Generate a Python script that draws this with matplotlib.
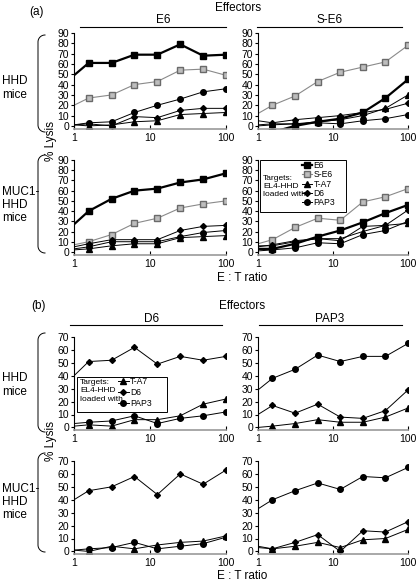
import numpy as np
import matplotlib
matplotlib.use('Agg')
import matplotlib.pyplot as plt
from matplotlib.lines import Line2D
from matplotlib.patches import Rectangle
from matplotlib import rcParams

rcParams.update({
    "font.family": ['Liberation Sans', 'DejaVu Sans'],
    "font.size": 7.5,
})

# E:T ratios (first point sits on the y axis, no marker)
ratio = [1, 1.56, 3.125, 6.25, 12.5, 25, 50, 100]

# (a) HHD mice, E6 effectors
a_hhd_e6 = {
    'E6':   [49, 61, 61, 69, 69, 79, 68, 69],
    'S-E6': [20, 27, 30, 40, 43, 54, 55, 49],
    'T-A7': [1, 0, 1, 4, 5, 11, 12, 13],
    'D6':   [1, 2, 0, 9, 8, 15, 17, 17],
    'PAP3': [1, 3, 4, 13, 20, 26, 33, 36],
}
# (a) HHD mice, S-E6 effectors
a_hhd_se6 = {
    'E6':   [np.nan, -6, 0, 4, 7, 13, 27, 45],
    'S-E6': [12, 20, 29, 43, 52, 57, 62, 78],
    'T-A7': [1, 2, 2, 4, 6, 10, 17, 30],
    'D6':   [5, 3, 6, 8, 10, 13, 16, 22],
    'PAP3': [0, 1, 2, 3, 2, 5, 7, 11],
}
# (a) MUC1-HHD mice, E6 effectors
a_muc_e6 = {
    'E6':   [27, 40, 52, 60, 62, 68, 71, 77],
    'S-E6': [7, 10, 17, 28, 33, 43, 47, 50],
    'T-A7': [2, 3, 6, 8, 8, 14, 15, 16],
    'D6':   [5, 8, 12, 12, 12, 21, 25, 26],
    'PAP3': [3, 5, 10, 10, 10, 15, 19, 21],
}
# (a) MUC1-HHD mice, S-E6 effectors
a_muc_se6 = {
    'E6':   [3, 3, 8, 15, 21, 29, 38, 46],
    'S-E6': [8, 12, 24, 33, 31, 49, 54, 62],
    'T-A7': [6, 6, 10, 13, 13, 20, 26, 28],
    'D6':   [5, 7, 11, 13, 11, 25, 26, 41],
    'PAP3': [1, 2, 4, 9, 8, 17, 21, 30],
}
# (b) HHD mice, D6 effectors
b_hhd_d6 = {
    'T-A7': [1, 2, 1, 6, 6, 9, 18, 22],
    'D6':   [40, 51, 52, 62, 49, 55, 52, 55],
    'PAP3': [3, 4, 5, 9, 3, 7, 9, 12],
}
# (b) HHD mice, PAP3 effectors
b_hhd_pap3 = {
    'T-A7': [0, 1, 3, 6, 4, 4, 8, 15],
    'D6':   [10, 17, 11, 18, 8, 7, 13, 29],
    'PAP3': [29, 38, 45, 56, 51, 55, 55, 65],
}
# (b) MUC1-HHD mice, D6 effectors
b_muc_d6 = {
    'T-A7': [1, 0, 4, 2, 5, 7, 8, 12],
    'D6':   [40, 47, 50, 58, 44, 60, 52, 63],
    'PAP3': [1, 2, 3, 7, 2, 4, 6, 11],
}
# (b) MUC1-HHD mice, PAP3 effectors
b_muc_pap3 = {
    'T-A7': [4, 2, 4, 7, 3, 9, 10, 17],
    'D6':   [3, 2, 7, 13, 0, 16, 15, 23],
    'PAP3': [33, 40, 47, 53, 48, 58, 57, 65],
}

style = {
    'E6':   dict(color='black', lw=1.6, marker='s', ms=4, mfc='black', mec='black'),
    'S-E6': dict(color='#8a8a8a', lw=0.8, marker='s', ms=4, mfc='#bdbdbd', mec='#6a6a6a'),
    'T-A7': dict(color='black', lw=0.7, marker='^', ms=4.5, mfc='black', mec='black'),
    'D6':   dict(color='black', lw=0.7, marker='D', ms=3, mfc='black', mec='black'),
    'PAP3': dict(color='black', lw=0.7, marker='o', ms=4, mfc='black', mec='black'),
}

W, H = 417, 582
fig = plt.figure(figsize=(W / 100, H / 100), dpi=100)


def px(x0, y0, x1, y1):
    # pixel box -> figure fraction rect
    return [x0 / W, 1 - y1 / H, (x1 - x0) / W, (y1 - y0) / H]


def panel(rect, data, ymax, ybot):
    ax = fig.add_axes(rect)
    for name, vals in data.items():
        ax.plot(ratio, vals, markevery=slice(1, None), **style[name])
    ax.set_xscale('log')
    ax.set_xlim(1, 100)
    ax.set_ylim(ybot, ymax)
    ax.set_yticks(np.arange(0, ymax + 1, 10))
    ax.set_xticks([1, 10, 100])
    ax.set_xticklabels(['1', '10', '100'])
    ax.xaxis.set_minor_locator(plt.NullLocator())
    ax.spines['top'].set_visible(False)
    ax.spines['right'].set_visible(False)
    ax.spines['bottom'].set_color('#999999')
    ax.spines['bottom'].set_linewidth(1.2)
    ax.spines['left'].set_linewidth(0.8)
    ax.tick_params(axis='y', direction='out', length=2.5, width=0.8, pad=1,
                   labelsize=7.5)
    ax.tick_params(axis='x', direction='in', length=3, width=0.8, pad=3,
                   labelsize=7.5)
    return ax


def brace(y0, y1):
    # "(" shaped bracket with rounded ends
    r = 7
    t = np.linspace(0, np.pi / 2, 20)
    top_x = 38 + r * (1 - np.sin(t))
    top_y = y0 + r * (1 - np.cos(t))
    bot_x = 38 + r * (1 - np.cos(t))
    bot_y = y1 - r + r * np.sin(t)
    xs = np.concatenate([top_x, bot_x])
    ys = np.concatenate([top_y, bot_y])
    fig.add_artist(Line2D(xs / W, 1 - ys / H, color='black', lw=0.7,
                          transform=fig.transFigure))


def ftext(x, y, s, **kw):
    fig.text(x / W, 1 - y / H, s, **kw)


def hline(x0, x1, y):
    fig.add_artist(Line2D([x0 / W, x1 / W], [1 - y / H, 1 - y / H],
                          color='black', lw=0.8, transform=fig.transFigure))


# ---- panel (a)
ax1 = panel(px(74, 33, 226, 129), a_hhd_e6, 90, -3)
ax2 = panel(px(258, 33, 408, 129), a_hhd_se6, 90, -3)
ax3 = panel(px(74, 160, 226, 255), a_muc_e6, 90, -3)
ax4 = panel(px(258, 160, 408, 255), a_muc_se6, 90, -3)

# ---- panel (b)
ax5 = panel(px(74, 337, 226, 430), b_hhd_d6, 70, -2)
ax6 = panel(px(258, 337, 408, 430), b_hhd_pap3, 70, -2)
ax7 = panel(px(74, 461, 226, 554), b_muc_d6, 70, -2)
ax8 = panel(px(258, 461, 408, 554), b_muc_pap3, 70, -2)

# legends
leg_fs = 6.2
txt_fs = 6.0
ax4.add_patch(Rectangle((0.013, 0.45), 0.575, 0.55, transform=ax4.transAxes,
                        fill=False, lw=0.7, ec='black', zorder=3))
ax4.text(0.035, 0.84, 'Targets:\nEL4-HHD\nloaded with', transform=ax4.transAxes,
         va='top', ha='left', fontsize=txt_fs, linespacing=1.15)
h4 = [Line2D([], [], **style[k]) for k in ['E6', 'S-E6', 'T-A7', 'D6', 'PAP3']]
ax4.legend(h4, ['E6', 'S-E6', 'T-A7', 'D6', 'PAP3'], loc='upper left',
           bbox_to_anchor=(0.28, 1.01), frameon=False, fontsize=leg_fs,
           handlelength=1.2, handletextpad=0.15, labelspacing=0.05,
           borderpad=0.2, borderaxespad=0.0)

ax5.add_patch(Rectangle((0.02, 0.19), 0.59, 0.38, transform=ax5.transAxes,
                        fill=False, lw=0.7, ec='black', zorder=3))
ax5.text(0.04, 0.55, 'Targets:\nEL4-HHD\nloaded with', transform=ax5.transAxes,
         va='top', ha='left', fontsize=txt_fs, linespacing=1.3)
h5 = [Line2D([], [], **style[k]) for k in ['T-A7', 'D6', 'PAP3']]
ax5.legend(h5, ['T-A7', 'D6', 'PAP3'], loc='upper left',
           bbox_to_anchor=(0.28, 0.585), frameon=False, fontsize=leg_fs,
           handlelength=1.2, handletextpad=0.15, labelspacing=0.2,
           borderpad=0.2, borderaxespad=0.0)

# headers and annotations
ftext(36, 12, '(a)', ha='center', va='center', fontsize=8.5)
ftext(238, 8, 'Effectors', ha='center', va='center', fontsize=8.5)
ftext(163, 20, 'E6', ha='center', va='center', fontsize=8.5)
ftext(330, 20, 'S-E6', ha='center', va='center', fontsize=8.5)
hline(80, 226, 27)
hline(257, 402, 27)

ftext(39, 306, '(b)', ha='center', va='center', fontsize=8.5)
ftext(242, 306, 'Effectors', ha='center', va='center', fontsize=8.5)
ftext(152, 319, 'D6', ha='center', va='center', fontsize=8.5)
ftext(330, 319, 'PAP3', ha='center', va='center', fontsize=8.5)
hline(70, 222, 325)
hline(259, 402, 325)

for y0, y1 in [(35, 132), (155, 253), (333, 432), (453, 552)]:
    brace(y0, y1)

row_kw = dict(ha='left', va='center', fontsize=8.5, linespacing=1.15)
ftext(2, 88, 'HHD\nmice', **row_kw)
ftext(2, 205, 'MUC1-\nHHD\nmice', **row_kw)
ftext(2, 385, 'HHD\nmice', **row_kw)
ftext(2, 502, 'MUC1-\nHHD\nmice', **row_kw)

ftext(51, 141, '% Lysis', ha='center', va='center', rotation=90, fontsize=8.5)
ftext(51, 441, '% Lysis', ha='center', va='center', rotation=90, fontsize=8.5)

ftext(242, 278, 'E : T ratio', ha='center', va='center', fontsize=8.5)
ftext(242, 576, 'E : T ratio', ha='center', va='center', fontsize=8.5)

fig.savefig('out.png', dpi=100)
